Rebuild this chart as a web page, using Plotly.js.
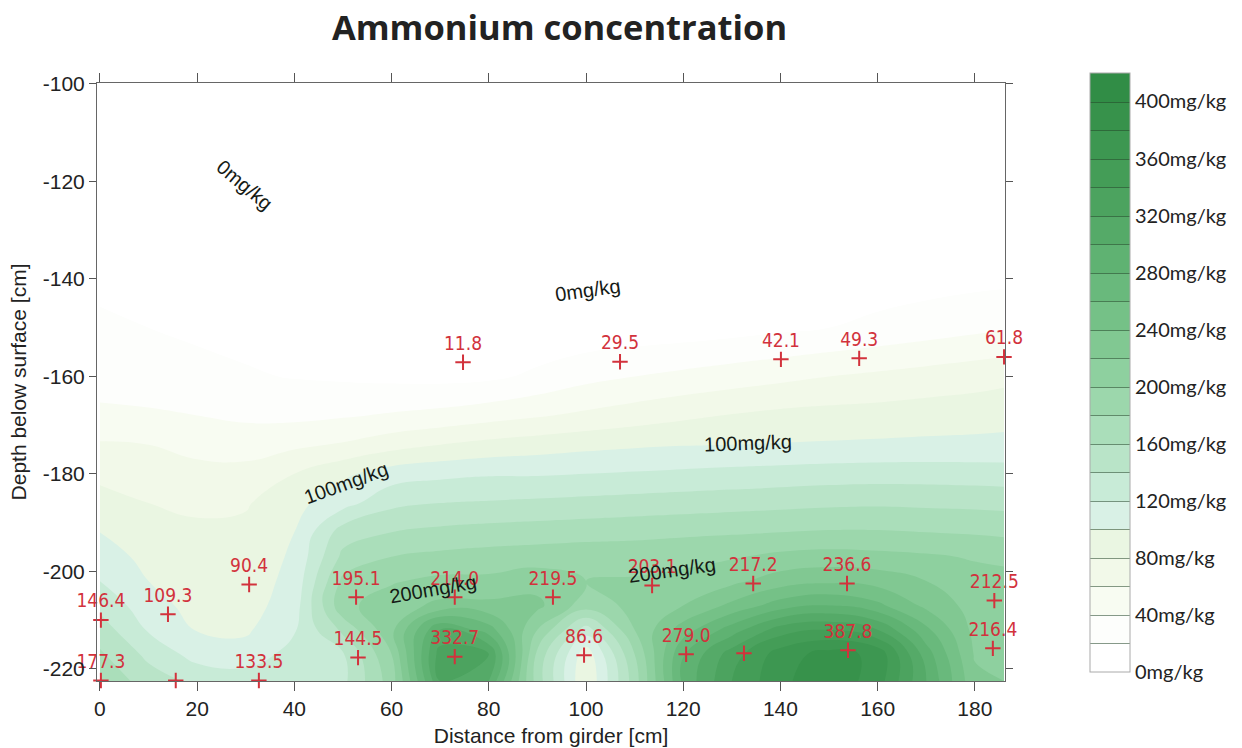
<!DOCTYPE html>
<html>
<head>
<meta charset="utf-8">
<script src="https://cdn.plot.ly/plotly-3.0.1.min.js"></script>
<style>
  html, body { margin: 0; padding: 0; background: #ffffff; }
  #chart { width: 1242px; height: 748px; }
</style>
</head>
<body>
<div id="chart"></div>
<script>
// Concentration field (mg/kg) on a regular grid: columns = distance from girder, rows = depth
const gridX = [0, 10, 20, 30, 40, 50, 60, 70, 80, 90, 100, 110, 120, 130, 140, 150, 160, 170, 180, 186];
const gridDepth = [-222.5, -217, -212, -207, -202, -197, -192, -186, -180, -174, -168, -160, -150, -135, -120, -100];
const gridConc = [
  [177, 150, 135, 132, 138, 135, 190, 320, 300, 170,  80, 170, 285, 340, 375, 395, 370, 300, 225, 220],
  [163, 135, 112, 108, 128, 138, 200, 330, 320, 175,  87, 180, 279, 330, 370, 388, 375, 290, 218, 216],
  [150, 118,  99,  97, 118, 165, 215, 300, 270, 200, 130, 200, 250, 290, 330, 340, 320, 265, 214, 213],
  [135, 108,  93,  92, 110, 195, 210, 225, 225, 225, 190, 205, 220, 245, 270, 280, 265, 235, 212, 212],
  [120, 100,  90,  90, 106, 185, 198, 205, 205, 212, 200, 202, 205, 215, 230, 236, 232, 220, 208, 206],
  [110,  94,  87,  88, 103, 165, 180, 185, 188, 190, 192, 192, 195, 198, 205, 208, 206, 203, 198, 196],
  [100,  88,  84,  85, 100, 150, 160, 165, 168, 170, 172, 174, 176, 178, 180, 182, 182, 180, 178, 176],
  [ 88,  80,  76,  78,  94, 112, 135, 140, 142, 144, 146, 148, 150, 152, 154, 156, 157, 156, 155, 154],
  [ 75,  70,  65,  66,  80,  96, 110, 115, 118, 118, 120, 122, 124, 126, 128, 130, 131, 131, 130, 129],
  [ 62,  60,  55,  52,  56,  62,  72,  80,  86,  90,  94,  97,  99, 100, 101, 102, 103, 104, 105, 106],
  [ 45,  43,  40,  36,  35,  38,  42,  46,  52,  58,  64,  70,  76,  81,  85,  87,  88,  90,  91,  92],
  [ 30,  28,  25,  22,  19,  17,  15,  14,  16,  24,  34,  40,  45,  50,  55,  60,  64,  68,  72,  75],
  [ 22,  20,  17,  14,  11,   9,   7,   5,   4,   4,   5,   7,   9,  12,  16,  20,  25,  30,  35,  38],
  [ 15,  12,  10,   7,   4,   2,   0,  -1,  -2, -2.5, -2.5, -2.5, -2, -1,   0,   1,   2,   3,   4,   4],
  [  8,   5,   2, -0.5, -4,  -6,  -8,  -9, -10, -10, -10, -10, -10,  -9,  -8,  -7,  -6,  -5,  -4,  -4],
  [ -5,  -8, -12, -15, -20, -22, -24, -25, -26, -26, -26, -26, -25, -24, -22, -20, -18, -16, -14, -13]
];

// Sampling points (null = sample without a printed value)
const sampleX = [74.7, 107, 140.1, 156.2, 186,
                 0.2, 14, 30.7, 52.7, 73, 93.2, 113.6, 134.4, 153.7, 184,
                 53.1, 73, 99.6, 120.6, 132.5, 153.9, 183.7,
                 0.2, 15.6, 32.7];
const sampleDepth = [-157.1, -157, -156.5, -156.3, -156,
                     -210, -208.8, -202.7, -205.3, -205.3, -205.3, -202.9, -202.5, -202.5, -206,
                     -217.7, -217.5, -217.2, -217, -216.8, -216.2, -215.8,
                     -222.4, -222.4, -222.4];
const sampleConc = [11.8, 29.5, 42.1, 49.3, 61.8,
                    146.4, 109.3, 90.4, 195.1, 214.0, 219.5, 203.1, 217.2, 236.6, 212.5,
                    144.5, 332.7, 86.6, 279.0, null, 387.8, 216.4,
                    177.3, null, 133.5];

// Axis and colorbar ticks
const xTicks = [0, 20, 40, 60, 80, 100, 120, 140, 160, 180];
const yTicks = [-100, -120, -140, -160, -180, -200, -220];
const cbTicks = [0, 40, 80, 120, 160, 200, 240, 280, 320, 360, 400];
const cbRange = [0, 420];

// One colour per 20 mg/kg band (0-20, 20-40, ..., 400-420)
const bandColors = [
  '#ffffff', '#fdfefc', '#f8fcf2', '#f2f9e9', '#eaf6e2', '#d9f1e6', '#c8ebd7',
  '#b9e4c8', '#aadeba', '#9cd7ac', '#8ed09f', '#81c892', '#75c187', '#69b97c',
  '#5fb272', '#55aa68', '#4ca35f', '#449d57', '#3d9751', '#37924b', '#318d46'
];
// Band colours at band mid-values for the filled contours
const fillScale = bandColors.map((c, i) => [i / (bandColors.length - 1), c]);
// Same bands as hard steps over the colorbar range
const stepScale = [];
bandColors.forEach((c, i) => {
  stepScale.push([i / bandColors.length, c]);
  stepScale.push([(i + 1) / bandColors.length, c]);
});

const levels = { start: 20, end: 400, size: 20 };

const contourTrace = {
  type: 'contour',
  x: gridX,
  y: gridDepth,
  z: gridConc,
  colorscale: fillScale,
  contours: Object.assign({ coloring: 'fill', showlines: false }, levels),
  line: { width: 0, smoothing: 1.3 },
  showscale: false,
  hoverinfo: 'skip'
};

// Scale-only trace: lies outside the visible axes and carries the colorbar
const scaleTrace = {
  type: 'contour',
  x: [-80, -70],
  y: [-400, -390],
  z: [[cbRange[0], cbRange[1]], [cbRange[0], cbRange[1]]],
  zmin: cbRange[0],
  zmax: cbRange[1],
  colorscale: stepScale,
  contours: Object.assign({ coloring: 'heatmap', showlines: true }, levels),
  line: { width: 1, color: 'rgba(35,70,40,0.55)' },
  hoverinfo: 'skip',
  colorbar: {
    x: 1.0936, xanchor: 'left', xpad: 0,
    y: 0.516, yanchor: 'middle', ypad: 0,
    len: 599, lenmode: 'pixels',
    thickness: 40,
    outlinewidth: 1, outlinecolor: '#aaaaaa',
    tickmode: 'array', tickvals: cbTicks,
    ticktext: cbTicks.map(v => v + 'mg/kg'),
    ticks: '',
    tickfont: { family: 'Lato, Noto Sans, sans-serif', size: 20, color: '#222222' }
  }
};

const sampleTrace = {
  type: 'scatter',
  mode: 'markers+text',
  x: sampleX,
  y: sampleDepth,
  text: sampleConc.map(v => (v === null ? '' : v.toFixed(1))),
  textposition: 'top center',
  textfont: { family: 'Liberation Sans Narrow, DejaVu Sans Condensed, sans-serif', size: 19, color: '#d2323c' },
  marker: { symbol: 'cross-thin', size: 11, line: { width: 2, color: '#d2323c' } },
  cliponaxis: false,
  hoverinfo: 'skip',
  showlegend: false
};

// Contour level labels
const levelLabels = [
  { text: '0mg/kg',   x: 29.8,  y: -120.7, angle: 40 },
  { text: '0mg/kg',   x: 100.4, y: -142.3, angle: -8 },
  { text: '100mg/kg', x: 50.6,  y: -181.8, angle: -20 },
  { text: '100mg/kg', x: 133.3, y: -173.6, angle: -2 },
  { text: '200mg/kg', x: 68.6,  y: -203.6, angle: -10 },
  { text: '200mg/kg', x: 117.7, y: -199.7, angle: -8 }
];

const axisFont = { family: 'Liberation Sans, Arial, sans-serif', size: 21, color: '#222222' };
const axisTitleFont = { family: 'Liberation Sans, Arial, sans-serif', size: 21, color: '#222222' };

const layout = {
  width: 1242,
  height: 748,
  paper_bgcolor: '#ffffff',
  plot_bgcolor: '#ffffff',
  margin: { l: 97, r: 237, t: 83, b: 67 },
  title: {
    text: 'Ammonium concentration',
    font: { family: 'Open Sans, sans-serif', size: 34.5, color: '#222222', weight: 700 },
    x: 0.4505, xref: 'container', xanchor: 'center',
    y: 0.962, yref: 'container', yanchor: 'middle'
  },
  xaxis: {
    range: [-0.6, 186.2],
    tickmode: 'array', tickvals: xTicks, ticktext: xTicks.map(String),
    ticks: 'outside', ticklen: 9, tickwidth: 1, tickcolor: '#555555',
    showline: true, linecolor: '#666666', linewidth: 1, mirror: 'ticks',
    showgrid: false, zeroline: false,
    tickfont: axisFont,
    title: { text: 'Distance from girder [cm]', standoff: 9, font: axisTitleFont }
  },
  yaxis: {
    range: [-222.5, -99.8],
    tickmode: 'array', tickvals: yTicks, ticktext: yTicks.map(v => '-' + Math.abs(v)),
    ticks: 'outside', ticklen: 7, tickwidth: 1, tickcolor: '#555555',
    showline: true, linecolor: '#666666', linewidth: 1, mirror: 'ticks',
    showgrid: false, zeroline: false,
    tickfont: axisFont,
    title: { text: 'Depth below surface [cm]', standoff: 10, font: axisTitleFont }
  },
  annotations: levelLabels.map(l => ({
    x: l.x, y: l.y, xref: 'x', yref: 'y',
    text: l.text, textangle: l.angle,
    showarrow: false,
    font: { family: 'Liberation Sans, Arial, sans-serif', size: 20, color: '#151a15' }
  })),
  showlegend: false
};

Plotly.newPlot('chart', [contourTrace, scaleTrace, sampleTrace], layout, { displayModeBar: false, staticPlot: true });
</script>
</body>
</html>
